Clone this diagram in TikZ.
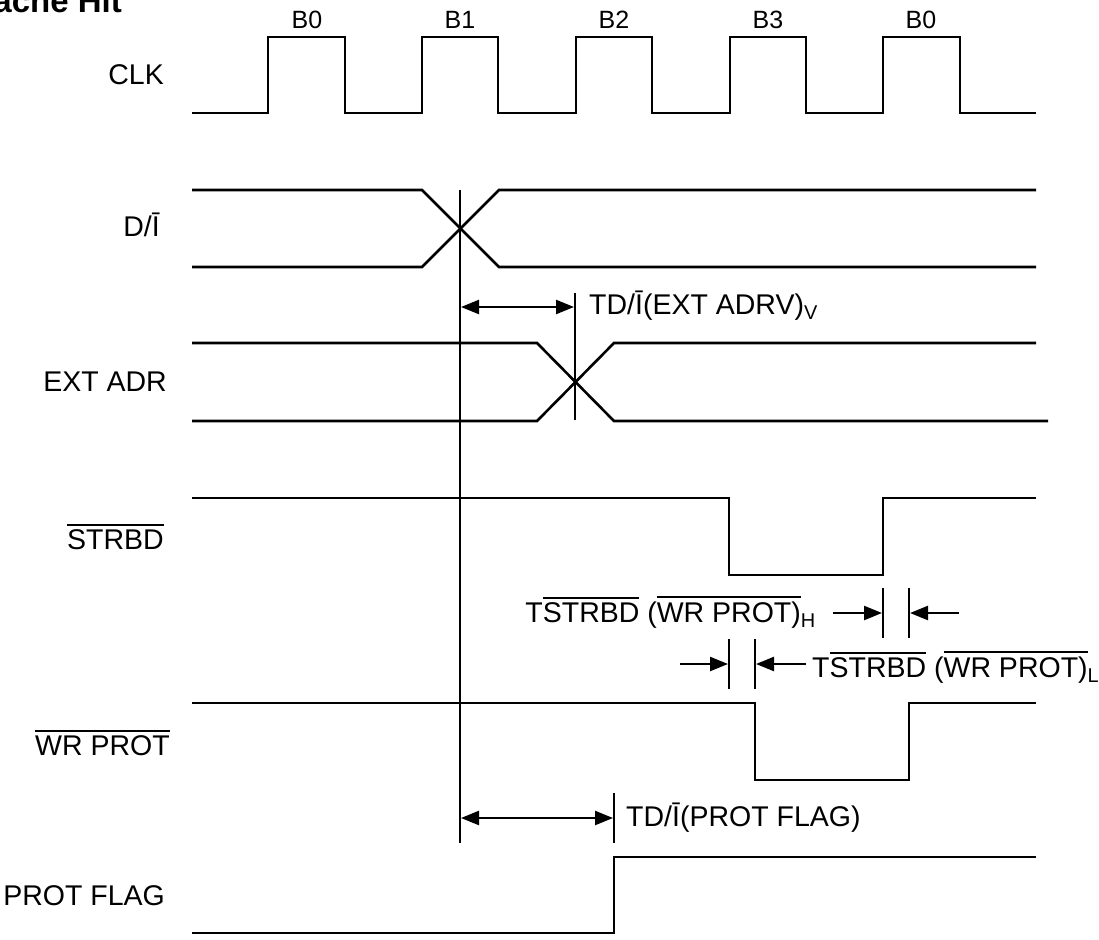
\documentclass[tikz,border=0pt]{standalone}
\usepackage{fontspec}
\setmainfont{Liberation Sans}
\usetikzlibrary{arrows.meta}
\newcommand{\ovl}[1]{\leavevmode\vbox{\hrule height 1.7pt\kern 3.2pt\hbox{#1}}}
\begin{document}
\begin{tikzpicture}[x=1pt,y=-1pt,
  wave/.style={line width=2.6pt, line join=miter},
  bar/.style={line width=2.6pt},
  lbl/.style={font=\fontsize{28.5}{33}\selectfont, inner sep=0pt},
  blbl/.style={font=\fontsize{25}{30}\selectfont, inner sep=0pt},
  dimtip/.tip={Triangle[length=18pt,width=14pt]},
  dim/.style={line width=2.4pt, dimtip-dimtip},
  onearrow/.style={line width=2.4pt, -dimtip}]
\useasboundingbox (0,0) rectangle (1099,939);

% title
\node[anchor=base east, inner sep=0pt, font=\fontsize{33}{38}\selectfont\bfseries] (title) at (122,13) {Cache Hit};

% clock labels
\node[blbl] (b0a) at (307,20) {B0};
\node[blbl] (b1) at (460,20) {B1};
\node[blbl] (b2) at (614,20) {B2};
\node[blbl] (b3) at (768,20) {B3};
\node[blbl] (b0b) at (921,20) {B0};

% signal labels
\node[lbl, anchor=base east] (lclk) at (164,85) {CLK};
\node[lbl, anchor=base east] (ldi) at (160,236) {D/Ī};
\node[lbl, anchor=base east] (lext) at (167,391) {EXT ADR};
\node[lbl, anchor=base east] (lstr) at (164,549) {\ovl{STRBD}};
\node[lbl, anchor=base east] (lwr) at (170,755) {\ovl{WR PROT}};
\node[lbl, anchor=base east] (lpf) at (165,905) {PROT FLAG};

% waveforms
\draw[wave] (192,113) -- (268,113) -- (268,37) -- (345,37) -- (345,113) -- (422,113) -- (422,37) -- (498,37) -- (498,113) -- (576,113) -- (576,37) -- (652,37) -- (652,113) -- (730,113) -- (730,37) -- (806,37) -- (806,113) -- (883,113) -- (883,37) -- (960,37) -- (960,113) -- (1036,113);
\draw[wave] (192,190) -- (422,190) -- (499,267) -- (1036,267);
\draw[wave] (192,267) -- (422,267) -- (499,190) -- (1036,190);
\draw[wave] (192,343) -- (537,343) -- (614,421) -- (1048,421);
\draw[wave] (192,421) -- (537,421) -- (614,343) -- (1036,343);
\draw[wave] (192,498) -- (729,498) -- (729,575) -- (883,575) -- (883,498) -- (1036,498);
\draw[wave] (192,703) -- (755,703) -- (755,780) -- (909,780) -- (909,703) -- (1036,703);
\draw[wave] (192,933) -- (614,933) -- (614,857) -- (1036,857);

% reference bars
\coordinate (v1t) at (460,190); \coordinate (v1b) at (460,843);
\coordinate (v2t) at (575,293); \coordinate (v2b) at (575,420);
\coordinate (v3t) at (614,793); \coordinate (v3b) at (614,843);
\coordinate (h1t) at (883,588); \coordinate (h1b) at (883,638);
\coordinate (h2t) at (909,588); \coordinate (h2b) at (909,638);
\coordinate (l1t) at (729,639); \coordinate (l1b) at (729,689);
\coordinate (l2t) at (755,639); \coordinate (l2b) at (755,689);
\draw[bar] (v1t) -- (v1b);
\draw[bar] (v2t) -- (v2b);
\draw[bar] (v3t) -- (v3b);
\draw[bar] (h1t) -- (h1b);
\draw[bar] (h2t) -- (h2b);
\draw[bar] (l1t) -- (l1b);
\draw[bar] (l2t) -- (l2b);

% dimension arrows
\coordinate (a1l) at (461,307); \coordinate (a1r) at (574,307);
\coordinate (a2l) at (461,818); \coordinate (a2r) at (613,818);
\coordinate (hs1) at (833,613); \coordinate (he1) at (882,613);
\coordinate (hs2) at (959,613); \coordinate (he2) at (910,613);
\coordinate (ls1) at (680,664); \coordinate (le1) at (728,664);
\coordinate (ls2) at (806,664); \coordinate (le2) at (756,664);
\draw[dim] (a1l) -- (a1r);
\draw[dim] (a2l) -- (a2r);
\draw[onearrow] (hs1) -- (he1);
\draw[onearrow] (hs2) -- (he2);
\draw[onearrow] (ls1) -- (le1);
\draw[onearrow] (ls2) -- (le2);

% annotations
\node[lbl, anchor=base west] (t1) at (589,314) {TD/Ī(EXT ADRV)\textsubscript{V}};
\node[lbl, anchor=base east] (t2) at (816,622) {T\ovl{STRBD} (\ovl{WR PROT)}\textsubscript{H}};
\node[lbl, anchor=base west] (t3) at (812,677) {T\ovl{STRBD} (\ovl{WR PROT)}\textsubscript{L}};
\node[lbl, anchor=base west] (t4) at (626,826) {TD/Ī(PROT FLAG)};
\end{tikzpicture}
\end{document}
